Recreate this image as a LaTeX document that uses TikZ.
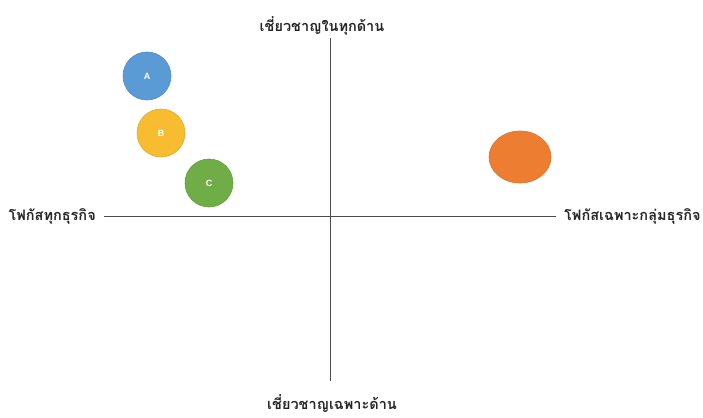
\documentclass[tikz,border=0pt]{standalone}
\usepackage{fontspec}
\usetikzlibrary{shapes.geometric}
\newfontfamily\thaifont[Script=Thai]{Loma}
\setmainfont{Liberation Sans}
\begin{document}
\begin{tikzpicture}[x=1pt,y=-1pt,
  axisline/.style={draw=black!70,line width=0.9pt},
  axislabel/.style={font=\thaifont\bfseries\fontsize{14.5}{16}\selectfont,text=black!85,inner sep=1pt},
  dot/.style={circle,minimum size=48pt,inner sep=0pt,line width=0.6pt,text=white,font=\bfseries\fontsize{9}{10}\selectfont}]
\useasboundingbox (0,0) rectangle (703,417);
\fill[white] (0,0) rectangle (703,417);
% axes
\coordinate (top) at (330,38);
\coordinate (bot) at (330,381);
\coordinate (lft) at (104,216);
\coordinate (rgt) at (556,216);
\draw[axisline] (top) -- (bot);
\draw[axisline] (lft) -- (rgt);
% axis labels
\node[axislabel] (lt) at (322,26) {เชี่ยวชาญในทุกด้าน};
\node[axislabel] (lb) at (332,404) {เชี่ยวชาญเฉพาะด้าน};
\node[axislabel,anchor=east] (ll) at (97,216) {โฟกัสทุกธุรกิจ};
\node[axislabel,anchor=west] (lr) at (563,216) {โฟกัสเฉพาะกลุ่มธุรกิจ};
% positioned players
\node[dot,fill={rgb,255:red,91;green,155;blue,213},draw={rgb,255:red,80;green,140;blue,200}] (a) at (147,76) {A};
\node[dot,fill={rgb,255:red,247;green,188;blue,48},draw={rgb,255:red,230;green,170;blue,40}] (b) at (161,133) {B};
\node[dot,fill={rgb,255:red,112;green,173;blue,71},draw={rgb,255:red,100;green,160;blue,62}] (c) at (209,183) {C};
\node[ellipse,minimum width=62pt,minimum height=52pt,inner sep=0pt,line width=0.6pt,
  fill={rgb,255:red,237;green,125;blue,49},draw={rgb,255:red,220;green,115;blue,45}] (d) at (520,157) {};
\end{tikzpicture}
\end{document}
